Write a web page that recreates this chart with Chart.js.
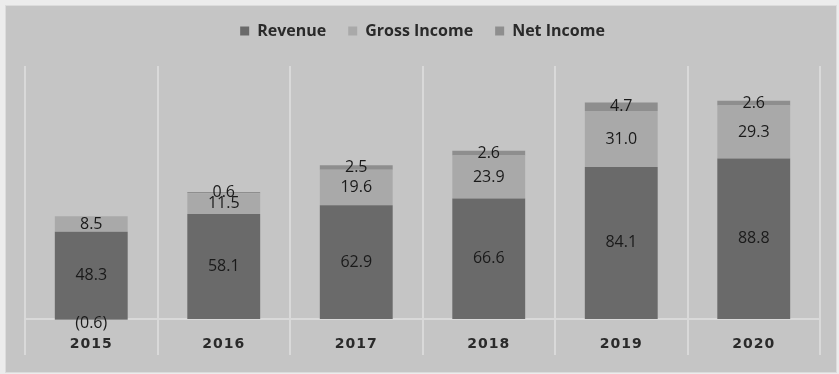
<!DOCTYPE html>
<html>
<head>
<meta charset="utf-8">
<script src="https://cdn.jsdelivr.net/npm/chart.js@4"></script>
<style>
  html, body { margin: 0; padding: 0; background: #ececec; }
  #wrap { width: 839px; height: 374px; }
</style>
</head>
<body>
<div id="wrap"><canvas id="financials"></canvas></div>
<script>
const years = ["2015", "2016", "2017", "2018", "2019", "2020"];
const revenue = [48.3, 58.1, 62.9, 66.6, 84.1, 88.8];
const grossIncome = [8.5, 11.5, 19.6, 23.9, 31.0, 29.3];
const netIncome = [-0.6, 0.6, 2.5, 2.6, 4.7, 2.6];

// grey panel behind the plot, with a light frame
const panelBackground = {
  id: "panelBackground",
  beforeInit(chart) {
    // extra room between the legend and the plot
    const legend = chart.legend;
    if (legend) {
      const fit = legend.fit;
      legend.fit = function () {
        fit.call(this);
        this.height += 17;
      };
    }
  },
  afterLayout(chart) {
    // spaced-out year labels
    const x = chart.scales.x;
    if (x && !x._spaced) {
      const draw = x.drawLabels;
      x.drawLabels = function (area) {
        this.ctx.save();
        this.ctx.letterSpacing = "1px";
        draw.call(this, area);
        this.ctx.restore();
      };
      x._spaced = true;
    }
  },
  beforeDraw(chart) {
    const ctx = chart.ctx;
    ctx.save();
    ctx.fillStyle = "#c5c5c5";
    ctx.fillRect(5, 5, chart.width - 7, chart.height - 6);
    ctx.strokeStyle = "#dcdcdc";
    ctx.lineWidth = 1;
    ctx.strokeRect(5.5, 5.5, chart.width - 8, chart.height - 7);
    ctx.restore();
  },
};

// value in the middle of every segment, negatives in brackets
const segmentLabels = {
  id: "segmentLabels",
  afterDatasetsDraw(chart) {
    const ctx = chart.ctx;
    ctx.save();
    ctx.font = "16px 'Open Sans'";
    ctx.fillStyle = "#1a1a1a";
    ctx.textAlign = "center";
    ctx.textBaseline = "middle";
    chart.data.datasets.forEach((ds, i) => {
      const meta = chart.getDatasetMeta(i);
      meta.data.forEach((bar, j) => {
        const v = ds.data[j];
        const text = v < 0 ? "(" + Math.abs(v).toFixed(1) + ")" : v.toFixed(1);
        let y = (bar.y + bar.base) / 2;
        if (v < 0) y += 4;
        ctx.fillText(text, bar.x, y);
      });
    });
    ctx.restore();
  },
};

new Chart(document.getElementById("financials"), {
  type: "bar",
  data: {
    labels: years,
    datasets: [
      { label: "Revenue", data: revenue, backgroundColor: "#6a6a6a" },
      { label: "Gross Income", data: grossIncome, backgroundColor: "#a9a9a9" },
      { label: "Net Income", data: netIncome, backgroundColor: "#8e8e8e" },
    ],
  },
  options: {
    responsive: true,
    maintainAspectRatio: false,
    animation: false,
    layout: { padding: { top: 1, left: 25, right: 19, bottom: 19 } },
    datasets: { bar: { barPercentage: 0.55, categoryPercentage: 1 } },
    scales: {
      x: {
        stacked: true,
        position: { y: 0 },
        grid: { color: "#d9d9d9", lineWidth: 2, drawTicks: false },
        border: { color: "#d9d9d9", width: 2 },
        ticks: {
          padding: 17,
          color: "#2a2a2a",
          font: { family: "'DejaVu Sans'", size: 14, weight: "bold" },
        },
      },
      y: {
        stacked: true,
        min: -20,
        max: 140,
        display: false,
      },
    },
    plugins: {
      legend: {
        position: "top",
        labels: {
          boxWidth: 9,
          boxHeight: 9,
          padding: 22,
          color: "#2a2a2a",
          font: { family: "'Open Sans'", size: 16, weight: "bold" },
        },
      },
      tooltip: { enabled: false },
    },
  },
  plugins: [panelBackground, segmentLabels],
});
</script>
</body>
</html>
